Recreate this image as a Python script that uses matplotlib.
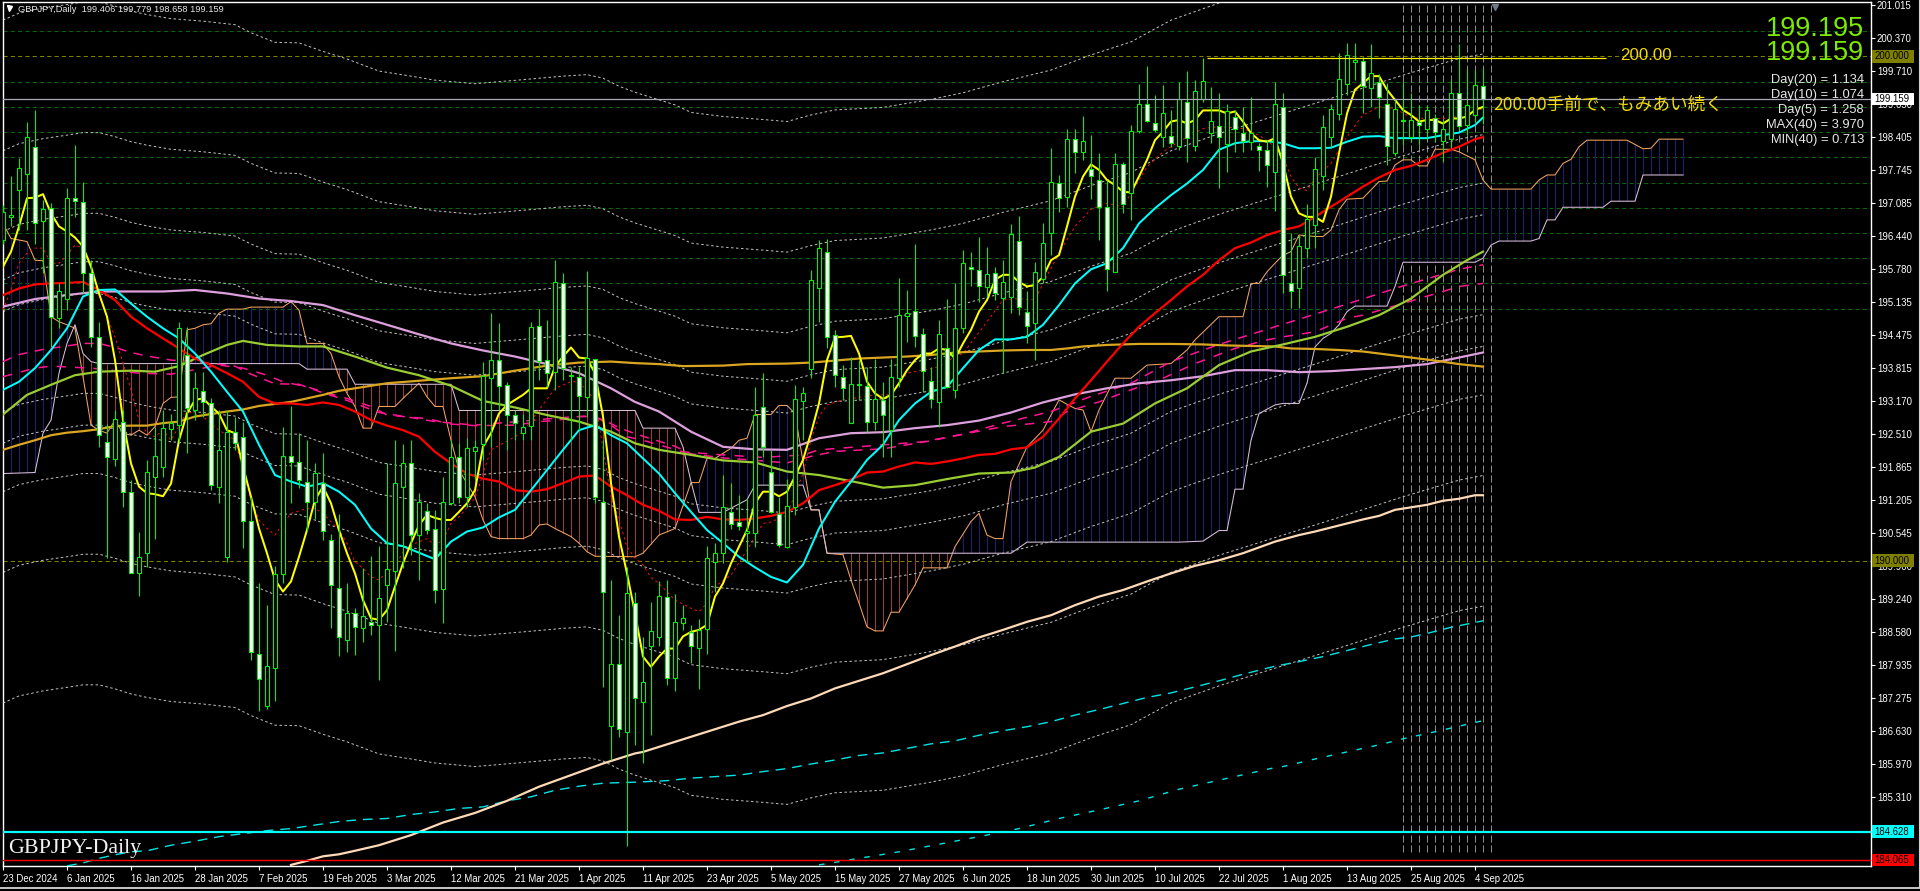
#!/usr/bin/env python3
"""GBPJPY daily chart with moving averages, envelopes and ichimoku cloud."""

import matplotlib
matplotlib.use("Agg")
import matplotlib.pyplot as plt
import numpy as np
from matplotlib.lines import Line2D
from matplotlib.patches import Rectangle

opens = [
    196.36, 196.82, 197.36, 197.66, 198.21, 196.74, 196.99, 194.82, 195.20, 197.20,
    197.11, 195.70, 194.44, 192.36, 192.01, 192.76, 191.37, 189.76, 190.15, 191.67,
    191.85, 192.61, 192.69, 194.08, 192.99, 193.37, 193.12, 191.47, 190.08, 192.56,
    192.45, 190.78, 188.16, 187.13, 187.88, 189.73, 192.08, 191.95, 191.57, 191.17,
    191.55, 190.42, 189.47, 188.42, 188.96, 188.67, 188.78, 188.72, 189.51, 189.80,
    191.47, 191.93, 190.51, 190.99, 190.64, 189.45, 191.14, 192.06, 191.27, 192.18,
    192.31, 193.63, 193.99, 193.49, 192.90, 192.53, 192.68, 194.66, 193.98, 193.74,
    195.51, 193.66, 193.65, 193.24, 194.00, 191.16, 186.73, 187.95, 186.60, 189.16,
    187.19, 188.32, 188.48, 189.29, 187.67, 188.76, 188.59, 188.28, 188.64, 189.98,
    190.16, 190.96, 190.76, 190.56, 190.56, 193.04, 191.77, 190.93, 190.28, 191.07,
    193.17, 193.80, 195.40, 196.13, 194.48, 193.65, 192.74, 193.49, 193.47, 192.76,
    193.19, 192.59, 193.63, 194.85, 194.96, 194.49, 193.57, 193.15, 194.21, 193.39,
    194.62, 195.83, 195.77, 195.42, 195.71, 195.22, 195.24, 196.35, 194.93, 194.71,
    195.58, 196.49, 197.50, 197.22, 198.36, 198.11, 197.76, 197.55, 197.02, 195.73,
    197.87, 197.30, 198.53, 199.05, 198.69, 198.40, 198.43, 198.23, 199.10, 198.22,
    199.16, 198.49, 198.62, 198.26, 198.79, 198.49, 198.31, 198.23, 198.15, 197.70,
    198.99, 195.50, 195.40, 196.20, 196.66, 197.62, 198.41, 198.86, 199.45, 199.90,
    199.91, 199.38, 199.49, 199.05, 198.09, 198.75, 198.41, 198.71, 198.57, 198.77,
    198.32, 198.36, 199.27, 198.64, 198.84, 199.406,
]
highs = [
    197.05, 197.62, 197.98, 198.71, 198.94, 197.15, 197.09, 195.50, 197.39, 198.24,
    197.52, 195.96, 194.74, 192.72, 192.99, 192.99, 191.60, 190.58, 192.00, 192.66,
    192.99, 192.92, 194.74, 194.64, 193.75, 193.75, 193.22, 192.99, 192.99, 192.86,
    192.76, 191.27, 189.55, 189.12, 189.90, 192.66, 193.06, 192.53, 192.39, 191.93,
    192.13, 190.54, 190.93, 189.55, 189.06, 189.85, 190.09, 190.29, 191.94, 192.39,
    192.32, 192.39, 191.34, 191.14, 191.01, 191.67, 192.39, 192.33, 192.43, 192.39,
    193.95, 194.91, 194.71, 193.55, 192.99, 192.92, 194.74, 194.99, 194.77, 195.96,
    195.70, 193.85, 193.85, 195.75, 194.01, 192.39, 189.62, 188.92, 189.88, 189.39,
    188.49, 189.18, 189.59, 189.62, 189.34, 189.12, 188.73, 188.85, 190.29, 190.36,
    191.70, 191.54, 191.30, 191.24, 193.45, 193.72, 192.20, 191.27, 191.63, 193.49,
    193.45, 195.77, 196.36, 196.39, 194.58, 193.88, 194.05, 193.98, 193.85, 194.01,
    193.55, 194.01, 195.60, 195.37, 196.29, 194.61, 193.85, 194.77, 195.20, 195.50,
    196.16, 196.13, 196.43, 196.23, 195.83, 195.96, 196.68, 196.84, 195.34, 195.93,
    196.69, 198.18, 197.65, 198.56, 198.57, 198.81, 198.44, 198.08, 197.55, 198.08,
    197.91, 198.64, 199.45, 199.81, 199.24, 199.43, 198.94, 199.50, 199.71, 199.53,
    199.96, 199.39, 199.27, 199.06, 198.94, 199.00, 199.19, 198.28, 198.34, 199.50,
    199.28, 196.49, 196.46, 197.07, 198.00, 198.83, 199.06, 200.06, 200.27, 200.26,
    199.98, 200.25, 199.65, 199.47, 199.14, 199.50, 199.27, 199.04, 199.04, 198.86,
    198.74, 199.53, 200.24, 199.75, 199.73, 199.779,
]
lows = [
    196.29, 196.63, 196.56, 196.56, 196.29, 195.70, 194.24, 194.61, 194.97, 196.82,
    195.30, 194.24, 192.26, 190.05, 191.87, 191.07, 189.75, 189.31, 189.87, 190.43,
    191.67, 192.39, 192.33, 192.13, 192.79, 192.86, 191.40, 191.14, 189.98, 192.20,
    190.25, 188.03, 187.03, 187.07, 187.22, 189.55, 191.14, 191.44, 190.59, 190.82,
    190.41, 188.66, 188.11, 188.19, 188.13, 188.38, 188.53, 187.64, 188.79, 188.22,
    189.85, 190.11, 189.62, 190.54, 189.16, 188.76, 191.11, 191.14, 191.07, 191.60,
    192.00, 192.26, 192.99, 192.20, 192.39, 192.39, 192.39, 193.58, 193.45, 193.39,
    193.58, 192.39, 192.59, 192.86, 191.14, 187.50, 186.05, 186.51, 184.35, 186.35,
    186.00, 186.54, 188.31, 187.54, 187.42, 188.63, 187.97, 187.45, 188.16, 189.39,
    189.96, 190.64, 190.61, 189.98, 190.28, 192.06, 190.94, 190.28, 190.25, 190.91,
    192.39, 193.62, 194.74, 194.21, 193.45, 193.19, 192.73, 193.19, 192.56, 192.59,
    192.06, 192.06, 193.45, 194.34, 194.24, 193.35, 193.02, 192.66, 193.42, 193.22,
    194.51, 195.44, 195.14, 195.24, 195.17, 193.73, 194.91, 194.87, 194.31, 193.98,
    195.50, 196.06, 196.92, 197.02, 197.68, 197.95, 197.17, 196.36, 195.34, 195.73,
    196.89, 196.76, 198.49, 198.71, 198.51, 198.21, 198.21, 198.15, 197.90, 198.13,
    199.10, 198.28, 197.40, 197.71, 198.11, 198.11, 198.15, 197.72, 197.42, 196.94,
    195.30, 195.01, 195.01, 196.00, 196.21, 197.35, 198.21, 198.74, 199.24, 199.53,
    198.87, 199.00, 198.77, 197.85, 198.03, 198.24, 198.31, 198.24, 198.34, 198.31,
    197.91, 198.21, 198.54, 198.44, 198.71, 198.658,
]
closes = [
    196.92, 196.84, 197.78, 198.40, 196.69, 196.97, 194.84, 195.34, 197.19, 197.13,
    195.70, 194.44, 192.49, 192.05, 192.82, 191.37, 189.76, 190.08, 191.77, 192.08,
    192.63, 192.73, 194.61, 193.02, 193.42, 193.14, 191.50, 192.20, 192.56, 192.33,
    190.78, 188.20, 187.65, 187.92, 189.73, 192.08, 191.95, 191.61, 191.17, 191.75,
    190.60, 189.51, 188.48, 188.96, 188.69, 188.91, 188.72, 189.27, 189.83, 191.54,
    191.93, 190.52, 191.17, 190.61, 189.43, 191.16, 192.05, 191.26, 192.23, 192.26,
    193.66, 193.98, 193.47, 192.90, 192.74, 192.65, 194.64, 193.96, 193.73, 195.53,
    193.83, 193.67, 193.27, 194.03, 191.27, 189.39, 187.95, 186.66, 189.37, 187.27,
    187.59, 188.60, 189.31, 187.67, 188.79, 188.86, 188.32, 188.63, 190.05, 190.15,
    191.07, 190.73, 190.69, 190.60, 192.90, 192.26, 190.97, 190.31, 191.09, 193.20,
    193.32, 195.57, 196.20, 194.44, 193.68, 193.42, 193.50, 193.48, 192.76, 193.21,
    192.90, 193.65, 194.87, 194.92, 194.46, 193.76, 193.20, 194.49, 193.45, 194.62,
    195.90, 195.79, 195.44, 195.68, 195.30, 195.53, 196.47, 195.03, 194.66, 195.73,
    196.31, 197.52, 197.19, 198.36, 198.11, 198.33, 197.62, 197.01, 195.78, 197.86,
    197.07, 198.53, 199.05, 198.73, 198.54, 198.87, 198.29, 199.15, 198.38, 199.32,
    199.52, 198.73, 198.40, 198.91, 198.56, 198.32, 198.48, 198.14, 197.85, 199.05,
    195.67, 195.35, 196.24, 196.77, 197.76, 198.60, 198.95, 199.55, 200.03, 199.91,
    199.42, 199.67, 199.19, 198.22, 198.95, 198.72, 198.75, 198.65, 198.93, 198.51,
    198.56, 199.28, 198.63, 199.03, 199.43, 199.159,
]

ema_fast = [
    195.83, 196.13, 196.63, 197.19, 197.20, 197.27, 196.89, 196.63, 196.53, 196.41,
    196.23, 195.83, 195.30, 194.84, 193.98, 192.79, 191.93, 191.47, 191.34, 191.32,
    191.28, 191.53, 192.39, 192.92, 193.19, 193.22, 193.06, 192.92, 192.59, 192.53,
    191.87, 191.27, 190.64, 190.15, 189.62, 189.39, 189.59, 190.08, 190.61, 191.21,
    191.47, 191.14, 190.61, 190.15, 189.75, 189.22, 188.86, 188.83, 189.02, 189.49,
    189.95, 190.35, 190.71, 190.91, 190.85, 190.81, 190.81, 190.97, 191.14, 191.40,
    192.26, 192.53, 192.92, 193.09, 193.19, 193.29, 193.42, 193.42, 193.42, 193.85,
    194.05, 194.23, 194.03, 194.01, 193.72, 192.86, 191.54, 190.48, 189.75, 188.96,
    188.10, 187.90, 188.10, 188.26, 188.26, 188.50, 188.59, 188.63, 188.73, 189.29,
    189.55, 189.95, 190.28, 190.61, 191.14, 191.37, 191.37, 191.28, 191.37, 191.67,
    192.00, 192.53, 193.12, 193.98, 194.43, 194.44, 194.46, 194.11, 193.55, 193.32,
    193.21, 193.29, 193.52, 193.78, 193.98, 194.11, 194.11, 194.21, 194.18, 194.01,
    194.31, 194.58, 194.94, 195.17, 195.57, 195.67, 195.67, 195.53, 195.44, 195.47,
    195.63, 195.96, 196.06, 196.63, 197.22, 197.62, 197.86, 197.75, 197.55, 197.45,
    197.32, 197.30, 197.62, 197.95, 198.34, 198.51, 198.71, 198.74, 198.67, 198.74,
    198.93, 198.93, 198.93, 198.87, 198.91, 198.71, 198.48, 198.34, 198.31, 198.38,
    197.88, 197.22, 196.89, 196.82, 196.82, 196.72, 197.22, 198.08, 198.87, 199.34,
    199.47, 199.61, 199.61, 199.34, 199.14, 198.94, 198.84, 198.71, 198.74, 198.74,
    198.67, 198.77, 198.77, 198.81, 198.94, 199.00,
]

even_bars = list(range(0, 185, 2)) + [185]
ema_mid = [
    193.39, 193.55, 193.82, 194.18, 194.61, 195.24, 195.37, 195.38, 195.10, 194.84,
    194.61, 194.41, 194.11, 193.75, 193.35, 192.96, 192.30, 191.70, 191.57, 191.47,
    191.54, 191.37, 191.11, 190.64, 190.35, 190.29, 190.16, 190.03, 190.38, 190.58,
    190.66, 190.86, 191.01, 191.40, 191.80, 192.20, 192.59, 192.69, 192.49, 192.33,
    192.03, 191.73, 191.34, 190.97, 190.61, 190.35, 190.08, 189.87, 189.68, 189.57,
    189.92, 190.64, 191.17, 191.57, 192.00, 192.30, 192.79, 193.12, 193.35, 193.45,
    193.82, 194.18, 194.39, 194.39, 194.44, 194.68, 195.07, 195.50, 195.78, 195.90,
    196.20, 196.69, 196.99, 197.25, 197.48, 197.75, 198.15, 198.28, 198.32, 198.32,
    198.28, 198.18, 198.18, 198.19, 198.31, 198.41, 198.42, 198.38, 198.38, 198.38,
    198.44, 198.49, 198.64, 198.79,
]
ema_slow = [
    195.27, 195.40, 195.48, 195.50, 195.51, 195.53, 195.37, 195.17, 194.84, 194.61,
    194.41, 194.21, 194.01, 193.88, 193.72, 193.55, 193.25, 193.12, 193.12, 193.09,
    193.14, 193.09, 192.96, 192.79, 192.68, 192.59, 192.46, 192.16, 191.93, 191.73,
    191.63, 191.57, 191.40, 191.37, 191.42, 191.54, 191.67, 191.69, 191.47, 191.30,
    191.11, 190.99, 190.82, 190.81, 190.87, 190.82, 190.81, 190.84, 190.89, 190.97,
    191.14, 191.40, 191.50, 191.61, 191.75, 191.77, 191.87, 191.95, 191.92, 191.97,
    192.03, 192.10, 192.12, 192.21, 192.25, 192.46, 192.82, 193.22, 193.58, 193.95,
    194.31, 194.64, 194.91, 195.17, 195.44, 195.67, 195.96, 196.20, 196.31, 196.46,
    196.56, 196.63, 196.82, 197.02, 197.22, 197.42, 197.60, 197.75, 197.83, 197.95,
    198.09, 198.21, 198.36, 198.40,
]

sma_plum_x = [
    0, 4, 8, 12, 16, 20, 24, 28, 32, 36, 40, 44, 48, 52, 56, 60, 64, 68, 72, 76, 79,
    82, 86, 90, 94, 98, 102, 106, 110, 114, 118, 122, 126, 130, 134, 138, 142, 146,
    150, 154, 158, 162, 166, 170, 174, 178, 182, 185,
]
sma_plum = [
    195.04, 195.19, 195.27, 195.34, 195.34, 195.34, 195.37, 195.30, 195.20, 195.15,
    195.07, 194.87, 194.68, 194.49, 194.31, 194.17, 194.05, 193.90, 193.72, 193.42,
    193.15, 192.96, 192.56, 192.26, 192.21, 192.20, 192.43, 192.53, 192.55, 192.63,
    192.69, 192.78, 192.94, 193.14, 193.30, 193.42, 193.52, 193.58, 193.66, 193.78,
    193.78, 193.74, 193.76, 193.80, 193.84, 193.90, 194.03, 194.13,
]

sma_olive_x = [
    0, 3, 6, 9, 12, 16, 19, 22, 25, 28, 30, 33, 37, 40, 44, 48, 52, 56, 60, 64, 68,
    72, 76, 79, 82, 86, 90, 94, 98, 102, 106, 110, 114, 118, 122, 126, 129, 132, 136,
    140, 144, 148, 152, 156, 160, 164, 168, 172, 176, 180, 183, 185,
]
sma_olive = [
    192.90, 193.29, 193.49, 193.68, 193.75, 193.77, 193.75, 193.86, 194.08, 194.28,
    194.36, 194.28, 194.25, 194.25, 194.05, 193.83, 193.68, 193.47, 193.17, 193.04,
    192.89, 192.76, 192.56, 192.33, 192.20, 192.10, 191.99, 191.95, 191.77, 191.70,
    191.58, 191.45, 191.50, 191.62, 191.73, 191.75, 191.85, 192.06, 192.56, 192.72,
    193.12, 193.42, 193.88, 194.15, 194.29, 194.44, 194.64, 194.87, 195.20, 195.67,
    195.96, 196.13,
]

sma_gold_x = [
    0, 2, 4, 6, 8, 10, 12, 14, 16, 18, 20, 22, 24, 26, 28, 30, 32, 34, 36, 38, 40, 42,
    44, 46, 48, 52, 56, 60, 64, 68, 72, 76, 79, 82, 85, 90, 93, 98, 101, 104, 107, 110,
    113, 116, 119, 122, 125, 128, 131, 133, 135, 138, 142, 146, 150, 153, 156, 159,
    161, 164, 167, 170, 173, 176, 179, 182, 185,
]
sma_gold = [
    192.20, 192.30, 192.39, 192.49, 192.54, 192.57, 192.61, 192.67, 192.68, 192.68,
    192.73, 192.76, 192.86, 192.91, 192.96, 193.00, 193.07, 193.11, 193.15, 193.22,
    193.29, 193.37, 193.42, 193.47, 193.52, 193.57, 193.62, 193.66, 193.77, 193.87,
    193.93, 193.95, 193.92, 193.90, 193.86, 193.87, 193.90, 193.91, 193.93, 193.97,
    194.01, 194.03, 194.05, 194.08, 194.13, 194.15, 194.17, 194.18, 194.18, 194.21,
    194.25, 194.28, 194.30, 194.30, 194.29, 194.27, 194.26, 194.25, 194.21, 194.20,
    194.18, 194.15, 194.09, 194.03, 193.97, 193.90, 193.85,
]

sma_peach_x = [
    36, 38, 40, 42, 44, 47, 51, 55, 59, 63, 67, 71, 75, 79, 80, 84, 88, 92, 95, 98,
    101, 104, 107, 110, 113, 116, 119, 122, 125, 128, 131, 134, 137, 140, 143, 146,
    149, 152, 155, 159, 162, 164, 167, 170, 172, 174, 176, 178, 180, 182, 184, 185,
]
sma_peach = [
    183.97, 184.05, 184.14, 184.18, 184.25, 184.36, 184.56, 184.81, 185.00, 185.24,
    185.52, 185.75, 185.98, 186.18, 186.21, 186.41, 186.61, 186.81, 186.94, 187.12,
    187.27, 187.47, 187.62, 187.77, 187.95, 188.13, 188.30, 188.48, 188.63, 188.79,
    188.92, 189.12, 189.29, 189.42, 189.59, 189.75, 189.90, 190.01, 190.15, 190.38,
    190.51, 190.58, 190.70, 190.82, 190.89, 191.01, 191.06, 191.11, 191.19, 191.23,
    191.30, 191.30,
]

cyan_upper_x = [
    8, 10, 12, 14, 16, 18, 21, 24, 27, 30, 33, 36, 39, 42, 45, 48, 51, 54, 57, 60, 63,
    66, 69, 72, 75, 79, 83, 86, 89, 92, 95, 98, 101, 104, 107, 110, 113, 116, 119,
    122, 125, 128, 131, 134, 137, 140, 143, 146, 149, 152, 155, 159, 162, 165, 168,
    171, 174, 176, 178, 181, 185,
]
cyan_upper = [
    183.95, 184.01, 184.10, 184.17, 184.23, 184.25, 184.36, 184.44, 184.53, 184.59,
    184.65, 184.69, 184.76, 184.83, 184.87, 184.89, 184.97, 185.02, 185.09, 185.12,
    185.24, 185.32, 185.45, 185.53, 185.59, 185.61, 185.64, 185.69, 185.72, 185.75,
    185.82, 185.88, 185.97, 186.05, 186.14, 186.19, 186.28, 186.37, 186.43, 186.54,
    186.63, 186.71, 186.81, 186.94, 187.05, 187.17, 187.29, 187.38, 187.50, 187.62,
    187.75, 187.91, 188.00, 188.10, 188.22, 188.34, 188.45, 188.49, 188.56, 188.68,
    188.81,
]
cyan_lower_x = [
    102, 107, 112, 117, 122, 127, 132, 137, 142, 147, 152, 159, 160, 164, 168, 172,
    175, 179, 182, 185,
]
cyan_lower = [
    183.97, 184.10, 184.23, 184.38, 184.53, 184.69, 184.89, 185.06, 185.24, 185.47,
    185.65, 185.90, 185.92, 186.07, 186.21, 186.35, 186.47, 186.61, 186.72, 186.83,
]

red_dash_x = [
    0, 1, 2, 3, 4, 5, 6, 7, 8, 9, 10, 11, 12, 13, 14, 15, 16, 17, 18, 19, 20, 21, 23,
    25, 27, 29, 31, 32, 33, 34, 35, 36, 37, 38, 39, 40, 42, 43, 44, 45, 46, 47, 48,
    49, 50, 51, 53, 54, 55, 56, 57, 59, 60, 61, 64, 65, 67, 69, 71, 72, 74, 76, 77,
    78, 79, 80, 81, 82, 84, 86, 87, 88, 89, 91, 93, 95, 96, 98, 100, 101, 102, 103,
    105, 109, 111, 113, 115, 117, 119, 120, 123, 125, 127, 129, 130, 132, 134, 136,
    138, 140, 141, 143, 145, 147, 150, 152, 155, 157, 159, 160, 161, 162, 163, 164,
    166, 168, 170, 172, 174, 176, 178, 180, 182, 184, 185,
]
red_dash = [
    194.97, 195.37, 195.90, 196.10, 196.20, 196.20, 195.90, 195.90, 196.06, 196.26,
    196.20, 195.90, 195.30, 194.84, 194.44, 193.92, 193.39, 192.79, 192.53, 192.46,
    192.59, 192.39, 192.96, 192.86, 192.59, 192.39, 191.21, 190.81, 190.64, 190.51,
    190.74, 190.94, 190.99, 191.04, 191.04, 190.94, 190.61, 190.35, 189.98, 189.85,
    189.68, 189.62, 189.78, 189.88, 190.18, 190.31, 190.44, 190.31, 190.41, 190.74,
    190.87, 191.24, 191.73, 192.20, 192.46, 192.56, 192.99, 193.42, 193.55, 193.55,
    193.19, 191.27, 190.81, 190.28, 190.05, 189.92, 189.67, 189.55, 189.22, 189.06,
    188.99, 189.16, 189.49, 189.72, 190.21, 190.74, 190.77, 190.91, 191.73, 192.39,
    192.86, 193.09, 193.19, 193.29, 193.29, 193.72, 193.78, 193.85, 194.05, 194.11,
    194.74, 195.17, 195.20, 195.17, 195.50, 196.10, 196.63, 196.97, 197.09, 197.02,
    197.29, 197.81, 198.11, 198.31, 198.57, 198.61, 198.57, 198.44, 198.21, 198.01,
    197.62, 197.39, 197.34, 197.58, 197.88, 198.41, 198.84, 199.00, 198.97, 198.79,
    198.77, 198.77, 198.81, 198.91, 198.97,
]

# envelope mid line, also drawn as the magenta dashes; the dotted bands sit at fixed offsets
env_x = [
    0, 2, 5, 8, 10, 12, 14, 16, 18, 21, 25, 29, 31, 34, 37, 40, 43, 47, 51, 54, 59, 65,
    70, 73, 75, 77, 79, 82, 84, 86, 90, 95, 98, 101, 104, 110, 116, 120, 125, 131, 136,
    141, 146, 152, 160, 167, 175, 182, 185,
]
env_mid = [
    193.95, 194.09, 194.19, 194.26, 194.31, 194.31, 194.23, 194.13, 194.06, 193.98,
    193.93, 193.86, 193.70, 193.51, 193.50, 193.33, 193.18, 192.94, 192.84, 192.76,
    192.69, 192.77, 192.84, 192.87, 192.80, 192.64, 192.52, 192.37, 192.27, 192.12,
    192.04, 191.98, 191.94, 192.07, 192.17, 192.22, 192.38, 192.51, 192.73, 192.96,
    193.26, 193.52, 193.95, 194.29, 194.69, 195.04, 195.45, 195.78, 195.87,
]
env_offsets = [0.99, 1.62, 2.58, 4.18, 6.77]

magenta_x = [
    0, 4, 6, 11, 17, 21, 27, 30, 33, 35, 38, 40, 43, 46, 48, 50, 53, 56, 59, 64, 67,
    69, 72, 74, 76, 78, 80, 85, 90, 95, 100, 102, 115, 125, 131, 133, 137, 141, 145,
    149, 154, 158, 160, 164, 168, 170, 173, 175, 177, 180, 182, 185,
]
magenta = [
    193.65, 193.82, 193.86, 193.82, 193.72, 193.70, 193.88, 193.82, 193.68, 193.55,
    193.45, 193.35, 193.22, 193.06, 192.89, 192.86, 192.82, 192.71, 192.68, 192.69,
    192.76, 192.78, 192.86, 192.86, 192.69, 192.46, 192.39, 192.16, 192.10, 192.05,
    192.10, 192.20, 192.36, 192.66, 192.76, 192.96, 193.15, 193.39, 193.62, 193.91,
    194.21, 194.38, 194.44, 194.54, 194.81, 194.87, 195.01, 195.10, 195.20, 195.34,
    195.44, 195.50,
]

span_a_x = [
    0, 1, 3, 4, 5, 6, 7, 8, 9, 10, 11, 12, 13, 14, 15, 16, 17, 18, 19, 20, 21, 22, 23,
    24, 25, 26, 27, 28, 30, 31, 35, 36, 37, 38, 40, 41, 42, 43, 44, 45, 46, 47, 49, 50,
    52, 53, 54, 55, 56, 57, 59, 60, 61, 62, 65, 66, 67, 68, 69, 71, 72, 73, 74, 79, 80,
    82, 84, 86, 87, 88, 89, 91, 92, 93, 94, 96, 97, 98, 99, 101, 102, 103, 105, 106,
    107, 108, 109, 110, 111, 112, 114, 115, 118, 119, 121, 122, 123, 124, 125, 126,
    128, 130, 132, 134, 135, 136, 137, 139, 141, 143, 146, 148, 149, 152, 155, 156,
    157, 158, 159, 160, 161, 162, 164, 165, 166, 167, 168, 170, 172, 173, 174, 175,
    176, 177, 178, 179, 181, 182, 184, 185, 186, 191, 192, 193, 194, 195, 196, 197,
    198, 203, 205, 206, 207, 210,
]
span_a = [
    196.69, 196.39, 196.33, 195.96, 195.95, 194.84, 194.74, 194.68, 194.61, 193.65,
    192.69, 192.59, 192.53, 192.79, 192.53, 192.49, 192.59, 192.49, 192.66, 193.12,
    193.24, 193.25, 194.58, 194.61, 194.68, 194.70, 194.91, 194.99, 194.99, 195.03,
    195.03, 195.14, 194.97, 194.31, 194.31, 194.11, 193.65, 193.32, 193.06, 192.63,
    192.63, 193.06, 193.06, 193.22, 193.52, 193.25, 193.06, 193.06, 192.39, 191.80,
    191.27, 190.81, 190.48, 190.44, 190.44, 190.51, 190.71, 190.73, 190.64, 190.48,
    190.35, 190.18, 190.09, 190.08, 190.15, 190.51, 190.64, 191.55, 191.55, 192.03,
    192.03, 192.23, 192.39, 192.43, 192.90, 192.90, 193.08, 193.08, 192.92, 191.01,
    191.01, 190.15, 190.12, 189.62, 189.16, 188.69, 188.61, 188.61, 188.98, 188.98,
    189.52, 189.86, 189.86, 190.28, 190.78, 190.94, 190.51, 190.44, 190.44, 191.57,
    192.26, 192.59, 193.19, 193.02, 192.99, 192.56, 192.99, 193.62, 193.62, 193.88,
    193.91, 194.18, 194.38, 194.84, 194.84, 195.50, 195.50, 195.73, 195.90, 196.06,
    196.13, 196.46, 196.43, 196.43, 196.56, 196.96, 197.17, 197.19, 197.52, 197.53,
    197.85, 197.95, 197.95, 197.83, 197.83, 198.16, 198.16, 198.11, 197.95, 197.55,
    197.37, 197.37, 197.55, 197.65, 197.65, 197.88, 197.96, 198.21, 198.34, 198.34,
    198.17, 198.18, 198.36, 198.36,
]
span_b_x = [
    0, 4, 5, 6, 7, 8, 9, 10, 11, 12, 37, 38, 43, 44, 56, 57, 79, 80, 84, 85, 86, 87,
    90, 93, 94, 100, 101, 102, 103, 126, 128, 147, 150, 152, 153, 154, 155, 156, 157,
    159, 160, 162, 163, 164, 165, 166, 167, 168, 169, 173, 174, 175, 184, 185, 186,
    187, 191, 192, 193, 194, 195, 200, 201, 204, 205, 210,
]
span_b = [
    191.73, 191.75, 192.53, 192.79, 193.72, 194.31, 194.68, 194.11, 193.95, 193.91,
    193.91, 193.80, 193.80, 193.50, 193.50, 192.98, 192.98, 192.63, 192.63, 192.26,
    191.57, 190.96, 190.96, 191.21, 191.50, 191.50, 191.01, 191.01, 190.15, 190.15,
    190.37, 190.37, 190.39, 190.60, 190.60, 191.42, 191.42, 192.39, 192.92, 193.09,
    193.12, 193.12, 193.52, 194.24, 194.41, 194.51, 194.68, 194.94, 195.05, 195.05,
    195.44, 195.92, 195.92, 196.00, 196.26, 196.34, 196.34, 196.39, 196.76, 196.76,
    197.01, 197.01, 197.13, 197.13, 197.65, 197.65,
]

grid_levels = [200.5, 199.5, 199.0, 198.5, 198.0, 197.5, 197.0, 196.5, 196.0, 195.5, 195.0]
round_levels = [200.0, 190.0]
last_price = 199.159
support_cyan = 184.628
support_red = 184.065
trend_level = 199.96
trend_start = 150.5
trend_end = 200.4
marker_bars = list(range(175, 187))

price_ticks = [
    201.015, 200.370, 199.710, 199.050, 198.405, 197.745, 197.085, 196.440, 195.780,
    195.135, 194.475, 193.815, 193.170, 192.510, 191.865, 191.205, 190.545, 189.900,
    189.240, 188.580, 187.935, 187.275, 186.630, 185.970, 185.310,
]
date_labels = [
    "23 Dec 2024", "6 Jan 2025", "16 Jan 2025", "28 Jan 2025", "7 Feb 2025",
    "19 Feb 2025", "3 Mar 2025", "12 Mar 2025", "21 Mar 2025", "1 Apr 2025",
    "11 Apr 2025", "23 Apr 2025", "5 May 2025", "15 May 2025", "27 May 2025",
    "6 Jun 2025", "18 Jun 2025", "30 Jun 2025", "10 Jul 2025", "22 Jul 2025",
    "1 Aug 2025", "13 Aug 2025", "25 Aug 2025", "4 Sep 2025",
]
stat_lines = [
    "Day(20) = 1.134", "Day(10) = 1.074", "Day(5) = 1.258",
    "MAX(40) = 3.970", "MIN(40) = 0.713",
]

WIDTH, HEIGHT = 1920, 891
SANS = "Liberation Sans"
GREEN = "#0CEB0C"


def fig_text(fig, x, y, text, **kwargs):
    fig.text(x / WIDTH, 1 - y / HEIGHT, text, va="center", **kwargs)


def price_box(ax, price, label, face, color="black"):
    trans = ax.get_yaxis_transform()
    ax.add_patch(Rectangle((1.0008, price - 0.125), 0.0222, 0.25, transform=trans,
                           facecolor=face, edgecolor="none", clip_on=False, zorder=20))
    ax.text(1.0115, price, label, transform=trans, ha="center", va="center",
            color=color, fontsize=6.9, family=SANS, clip_on=False, zorder=21)


def draw_cloud(ax):
    bars = np.arange(0, 211)
    a = np.interp(bars, span_a_x, span_a)
    b = np.interp(bars, span_b_x, span_b)
    blue = a >= b
    ax.vlines(bars[blue], b[blue], a[blue], color="#1C1C7A", lw=0.72, zorder=1)
    ax.vlines(bars[~blue], a[~blue], b[~blue], color="#A23E28", lw=0.72, zorder=1)
    ax.plot(span_a_x, span_a, color="#F4A460", lw=0.75, zorder=2)
    ax.plot(span_b_x, span_b, color="#D8BFD8", lw=0.75, zorder=2)


def draw_candles(ax):
    o = np.array(opens)
    h = np.array(highs)
    l = np.array(lows)
    c = np.array(closes)
    bars = np.arange(len(o))
    ax.vlines(bars, l, h, color=GREEN, lw=0.8, zorder=6)
    faces = ["white" if close < open_ else "black" for open_, close in zip(o, c)]
    tops = np.maximum(o, c)
    bottoms = np.minimum(o, c)
    ax.bar(bars, np.maximum(tops - bottoms, 0.03), bottom=bottoms, width=0.6,
           facecolor=faces, edgecolor=GREEN, linewidth=0.8, zorder=7)


def main():
    fig = plt.figure(figsize=(WIDTH / 100, HEIGHT / 100), dpi=100, facecolor="black")
    ax = fig.add_axes([3 / WIDTH, 1 - 866 / HEIGHT, 1867.6 / WIDTH, 864 / HEIGHT],
                      facecolor="black")
    ax.set_xlim(0, 233.45)
    ax.set_ylim(183.948, 201.08)

    ax.hlines(grid_levels, 0, 233.45, color="#0A640A", lw=0.75, linestyles=(0, (4, 3)), zorder=0)
    ax.hlines(round_levels, 0, 233.45, color="#808000", lw=0.75, linestyles=(0, (4, 3)), zorder=0)
    ax.vlines(marker_bars, 184.23, 201.08, color="#8C8C8C", lw=0.72,
              linestyles=(0, (7, 3)), zorder=1)

    draw_cloud(ax)

    for k in env_offsets:
        for sign in (1, -1):
            ax.plot(env_x, np.array(env_mid) + sign * k, color="#BEBEBE", lw=0.72,
                    linestyle=(0, (2.5, 2.5)), zorder=2)

    ax.plot(env_x, env_mid, color="#FF1493", lw=1.1, linestyle=(0, (6, 5)), zorder=3)
    ax.plot(magenta_x, magenta, color="#FF1493", lw=1.1, linestyle=(0, (6, 6)), zorder=3)
    ax.plot(cyan_upper_x, cyan_upper, color="#00E5E5", lw=1.0, linestyle=(0, (7, 5)), zorder=3)
    ax.plot(cyan_lower_x, cyan_lower, color="#00E5E5", lw=1.0, linestyle=(0, (4, 7)), zorder=3)
    ax.plot(red_dash_x, red_dash, color="#F01010", lw=0.72, linestyle=(0, (2.5, 3)), zorder=3)

    ax.plot(sma_peach_x, sma_peach, color="#FFDAB9", lw=1.6, zorder=4)
    ax.plot(sma_plum_x, sma_plum, color="#DDA0DD", lw=1.6, zorder=4)
    ax.plot(sma_gold_x, sma_gold, color="#DAA520", lw=1.6, zorder=4)
    ax.plot(sma_olive_x, sma_olive, color="#9ACD32", lw=1.6, zorder=4)
    ax.plot(even_bars, ema_slow, color="#FF0000", lw=1.6, zorder=4)
    ax.plot(even_bars, ema_mid, color="#00FFFF", lw=1.45, zorder=4)
    ax.plot(range(len(ema_fast)), ema_fast, color="#FFFF00", lw=1.45, zorder=4)

    draw_candles(ax)

    ax.axhline(last_price, color="#A8A8B8", lw=0.9, zorder=8)
    ax.axhline(support_cyan, color="#00FFFF", lw=1.6, zorder=8)
    ax.axhline(support_red, color="#FF0000", lw=1.0, zorder=8)
    ax.hlines(trend_level, trend_start, trend_end, color="#FFF000", lw=0.9, zorder=8)

    for side in ("top", "right", "left", "bottom"):
        ax.spines[side].set_color("white")
        ax.spines[side].set_linewidth(1.0)

    ax.yaxis.tick_right()
    ax.set_yticks(price_ticks)
    ax.set_yticklabels([f"{p:.3f}" for p in price_ticks], fontsize=6.9, family=SANS, color="white")
    ax.set_xticks(range(0, len(date_labels) * 8, 8))
    ax.set_xticklabels(date_labels, fontsize=6.9, family=SANS, color="white", ha="left")
    ax.tick_params(axis="y", colors="white", length=3, width=0.8, pad=1.5)
    ax.tick_params(axis="x", colors="white", length=3, width=0.8, pad=2.5)

    price_box(ax, 200.0, "200.000", "#808000")
    price_box(ax, last_price, "199.159", "white")
    price_box(ax, 190.0, "190.000", "#808000")
    price_box(ax, support_cyan, "184.628", "#00FFFF")
    price_box(ax, support_red, "184.065", "#FF0000")

    ax.plot([0.0030], [0.9925], marker="v", ms=3.6, color="white", transform=ax.transAxes,
            clip_on=False, zorder=20)
    ax.plot([186.5], [200.98], marker="v", ms=5, color="#707A88", zorder=20)

    fig_text(fig, 18, 9.5, "GBPJPY,Daily  199.406 199.779 198.658 199.159",
             color="#E8E8E8", fontsize=6.7, family=SANS)
    fig_text(fig, 8, 848, "GBPJPY-Daily", color="#F0F0F0", fontsize=15.8,
             family="Liberation Serif")

    fig_text(fig, 1864, 28.5, "199.195", color="#7CEB00", fontsize=19.5, family=SANS, ha="right")
    fig_text(fig, 1864, 53.5, "199.159", color="#7CEB00", fontsize=19.5, family=SANS, ha="right")
    for y, line in zip((80, 95, 110, 125, 140), stat_lines):
        fig_text(fig, 1864, y, line, color="#E8E8E8", fontsize=9.3, family=SANS, ha="right")

    fig_text(fig, 1620, 55, "200.00", color="#F5DC00", fontsize=12.2, family=SANS)
    fig_text(fig, 1493, 105, "200.00手前で、もみあい続く", color="#F5DC00", fontsize=12.7,
             family=["Noto Sans CJK JP", "DejaVu Sans"])

    fig.add_artist(Line2D([0, 1], [1 - 887.5 / HEIGHT] * 2, color="#E8E8E8", lw=1.2))
    fig.add_artist(Line2D([1919 / WIDTH] * 2, [1 - 887 / HEIGHT, 1], color="#D0D0D0", lw=0.8))

    fig.savefig("out.png", dpi=100, facecolor="black")
    plt.close(fig)


if __name__ == "__main__":
    main()
